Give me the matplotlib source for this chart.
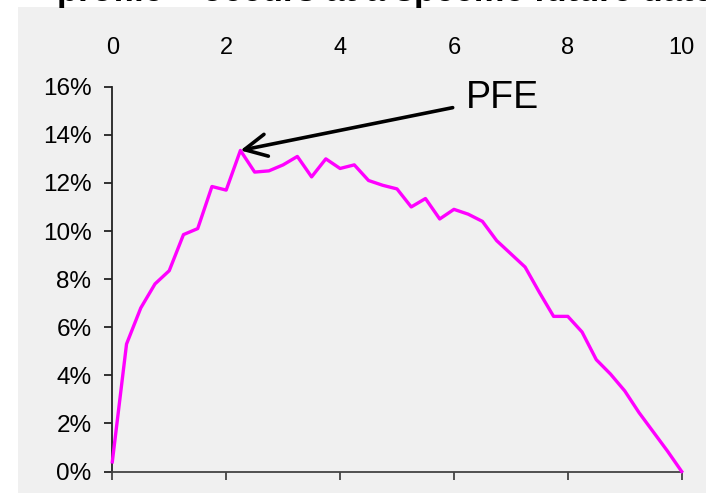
import matplotlib
matplotlib.use('Agg')
import matplotlib.pyplot as plt
from matplotlib.ticker import PercentFormatter

# time in years and PFE as percent of notional
years = [0, 0.25, 0.5, 0.75, 1, 1.25, 1.5, 1.75, 2, 2.25, 2.5, 2.75, 3, 3.25,
         3.5, 3.75, 4, 4.25, 4.5, 4.75, 5, 5.25, 5.5, 5.75, 6, 6.25, 6.5, 6.75,
         7, 7.25, 7.5, 7.75, 8, 8.25, 8.5, 8.75, 9, 9.25, 9.5, 9.75, 10]
pfe = [0.4, 5.3, 6.8, 7.8, 8.35, 9.85, 10.1, 11.85, 11.7, 13.35, 12.45, 12.5,
       12.75, 13.1, 12.25, 13.0, 12.6, 12.75, 12.1, 11.9, 11.75, 11.0, 11.35,
       10.5, 10.9, 10.7, 10.4, 9.6, 9.05, 8.5, 7.45, 6.45, 6.45, 5.8, 4.65,
       4.05, 3.35, 2.45, 1.65, 0.85, 0.0]
x_ticks = [0, 2, 4, 6, 8, 10]
y_ticks = [0, 2, 4, 6, 8, 10, 12, 14, 16]
peak_idx = 9

plt.rcParams['font.family'] = ['Liberation Sans', 'DejaVu Sans']

W, H = 706, 493
fig = plt.figure(figsize=(W / 100, H / 100), dpi=100, facecolor='white')
bg = '#f0f0f0'

# gray chart area behind everything
bg_ax = fig.add_axes([18 / W, 0, 1 - 18 / W, 1 - 7 / H], zorder=-1)
bg_ax.set_facecolor(bg)
bg_ax.set_axis_off()
bg_ax.add_patch(plt.Rectangle((0, 0), 1, 1, color=bg,
                              transform=bg_ax.transAxes))

# cut-off slide title
fig.text(57 / W, 1 - 1.5 / H, 'profile \u2013 occurs at a specific future date',
         fontsize=25, fontweight='bold', va='baseline', ha='left')

left, right = 112.3 / W, 681.7 / W
bottom, top = (H - 471.5) / H, (H - 86.7) / H
ax = fig.add_axes([left, bottom, right - left, top - bottom])
ax.set_facecolor(bg)

ax.plot(years, pfe, color='#ff00ff', lw=2.4, clip_on=False, zorder=3)

ax.set_xlim(0, 10)
ax.set_ylim(0, 16)
ax.set_xticks(x_ticks)
ax.set_yticks(y_ticks)
ax.yaxis.set_major_formatter(PercentFormatter(decimals=0))

for s in ['top', 'right']:
    ax.spines[s].set_visible(False)
ax.spines['left'].set_color('#222222')
ax.spines['bottom'].set_color('#444444')
ax.spines['left'].set_linewidth(1.3)
ax.spines['bottom'].set_linewidth(1.3)

ax.tick_params(axis='x', bottom=True, top=False, labelbottom=False,
               labeltop=True, length=6, width=1.3, color='#444444',
               labelsize=17, pad=14)
ax.tick_params(axis='y', length=6, width=1.3, color='#222222',
               labelsize=17.5, pad=9)

ax.annotate('PFE', xy=(years[peak_idx], pfe[peak_idx]), xytext=(6.86, 15.55),
            fontsize=27, ha='center', va='center',
            arrowprops=dict(arrowstyle='->', lw=2.6, color='black',
                            mutation_scale=40, shrinkA=8, shrinkB=0))

fig.savefig('out.png', dpi=100, facecolor='white')
